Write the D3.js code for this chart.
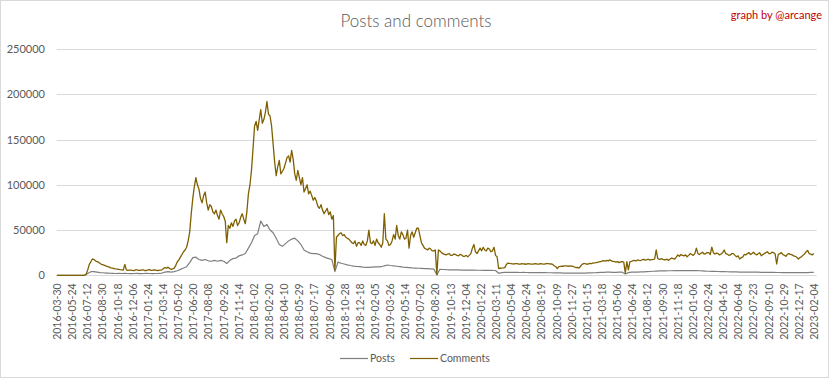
<!DOCTYPE html>
<html><head><meta charset="utf-8">
<script src="https://cdn.jsdelivr.net/npm/d3@7"></script>
<style>
html,body{margin:0;padding:0;background:#fff;}
svg{display:block;font-family:Lato,"Open Sans",sans-serif;}
</style></head>
<body>
<svg id="chart" width="831" height="379"></svg>
<script>
const title = "Posts and comments";
const credit = "graph by @arcange";
const seriesNames = ["Posts", "Comments"];
const yTicks = [0, 50000, 100000, 150000, 200000, 250000];
const tickLabels = ["2016-03-30","2016-05-24","2016-07-12","2016-08-30","2016-10-18","2016-12-06",
"2017-01-24","2017-03-14","2017-05-02","2017-06-20","2017-08-08","2017-09-26","2017-11-14",
"2018-01-02","2018-02-20","2018-04-10","2018-05-29","2018-07-17","2018-09-06","2018-10-28","2018-12-18",
"2019-02-05","2019-03-26","2019-05-14","2019-07-02","2019-08-20","2019-10-13","2019-12-04",
"2020-01-22","2020-03-11","2020-05-04","2020-06-24","2020-08-19","2020-10-09","2020-11-27",
"2021-01-15","2021-03-18","2021-05-06","2021-06-24","2021-08-12","2021-09-30","2021-11-18",
"2022-01-06","2022-02-24","2022-04-16","2022-06-04","2022-07-23","2022-09-10","2022-10-29","2022-12-17",
"2023-02-04"];
const categoriesPerTick = 49;
const categoryCount = 2460;
const commentsStep = 5;  // comments read every 5 categories
const postsStep = 10;    // posts read every 10 categories
const comments = [
0,0,0,0,0,0,0,0,0,0,0,0,0,0,0,0,0,0,0,1500,
6000,12000,15000,18000,17500,16000,15000,14500,13000,12000,11500,11000,10000,9500,9000,8200,8000,7500,7000,6800,
6500,6200,6000,5800,12000,6000,5500,5700,5800,5400,5200,5900,6000,5400,5500,6100,5900,5200,5300,6000,
6200,5500,5600,6000,5800,5300,5400,5800,6000,7500,8500,7800,9000,7500,6500,7200,8000,11000,15000,17000,
20000,23000,26000,28000,31000,38000,48000,68000,85000,98000,108000,100000,95000,85000,80000,88000,92000,80000,72000,78000,
76000,70000,68000,72000,66000,62000,72000,68000,65000,60000,36000,55000,52000,58000,54000,60000,62000,55000,58000,64000,
68000,62000,57000,70000,90000,100000,116000,140000,165000,170000,160000,172000,183000,168000,172000,180000,192000,178000,176000,165000,
145000,125000,110000,120000,127000,112000,115000,118000,124000,130000,132000,125000,138000,128000,112000,105000,116000,108000,100000,108000,
92000,96000,100000,90000,93000,88000,83000,86000,82000,76000,74000,78000,72000,68000,71000,74000,67000,70000,62000,66000,
6000,42000,44000,46000,47000,44000,45000,42000,41000,40000,38000,36000,35000,38000,32000,36000,36000,33000,38000,34000,
33000,38000,50000,36000,35000,38000,33000,40000,36000,34000,31000,36000,68000,40000,38000,33000,34000,38000,45000,40000,
55000,44000,40000,48000,45000,40000,41000,50000,30000,44000,48000,42000,47000,52000,52000,44000,36000,33000,30000,29000,
28000,30000,29000,27000,27000,28000,1000,28000,27000,25000,24000,23000,22500,23500,24000,22000,22000,23500,23000,22000,
21500,23000,22500,21000,21000,22000,20500,22000,24000,30000,34000,26000,24000,27000,30000,27000,31000,28000,27000,30000,
29000,26000,27000,31000,22000,20500,7500,7800,8000,8200,8500,12000,13500,13200,13000,12700,12500,12900,12800,12400,
12300,12800,12700,12500,12200,12800,12600,12300,12400,12700,12900,12400,12300,12800,12700,12400,12500,13000,12800,12600,
12500,12000,10500,9500,7500,9500,9800,10200,10000,10500,10300,9900,10500,10200,10000,9200,8400,8800,8000,10000,
12000,12800,13000,12200,12500,13200,13000,13500,13800,14000,14400,14800,15000,15800,16200,15500,16500,16000,17000,16000,
15500,15000,14500,15200,14000,14800,15000,14500,2500,15000,6000,15000,15500,16200,16500,15800,17000,16500,16300,17200,
17500,16800,17200,17800,16800,17200,17500,18000,28000,18500,17500,18200,18000,17200,17000,17800,16500,18000,19000,18500,
18000,20000,22500,21000,23000,22000,21500,22500,20500,22000,24000,23000,22000,24000,30000,24000,23000,24500,25500,23500,
24000,25000,25000,23000,31000,25000,23500,24500,24000,22500,23500,25000,28000,24000,23500,22000,22500,24000,24000,22000,
20500,21500,18000,19500,20000,23000,22500,24000,25000,23000,24000,25500,23500,22500,23800,25000,21500,23000,24000,25000,
26000,24000,24000,25500,25000,23500,12500,23000,24000,25000,23000,22000,21000,23500,24000,23000,22500,21500,21000,20000,
18000,19500,20500,22000,23500,26000,27500,24000,23500,22500,24000];
const posts = [
0,0,0,0,0,0,0,0,0,0,
2000,4000,4000,3500,3000,2800,2500,2300,2200,2000,
2100,2000,2200,2000,1900,2000,2100,1900,2000,2100,
2000,1900,2000,2100,2500,3500,4000,3500,4000,5000,
6500,8000,9500,14000,19500,20000,17500,16500,17500,16000,
15500,16500,15500,16500,15500,13000,16500,18500,19000,21500,
22500,24000,30000,36000,44000,46000,60000,54000,56000,50000,
47000,41000,34000,32000,35000,38000,40000,41000,38000,34000,
28000,26000,24500,24000,24000,23000,21000,19500,18500,17500,
4000,14500,13300,12500,11500,10800,10200,9800,9500,9000,
8800,8800,9000,9200,9400,9500,10500,11400,10800,10500,
10000,9500,9000,8800,8500,8200,8000,7800,7600,7400,
7300,7100,6900,500,6600,6400,6200,6100,6000,5900,
5900,5800,5800,5700,5700,5800,5600,5600,5500,5500,
5600,5400,5300,2200,3000,3300,3200,3300,3200,3300,
3100,3200,3100,3000,3100,3000,3000,2900,2900,2800,
2800,2700,2600,2600,2500,2500,2400,2400,2300,2300,
2400,2500,2600,2700,2800,3000,3200,3300,3400,3400,
3300,3300,3400,3400,1500,3000,3500,3500,3600,3700,
3800,4000,4200,4500,4700,4800,4800,4900,5000,5000,
5100,5200,5200,5100,5200,5300,5100,5200,5000,4800,
4600,4500,4400,4300,4200,4100,4000,3900,3800,3700,
3700,3600,3600,3500,3500,3400,3400,3400,3300,3300,
3300,3200,3200,3100,3100,3000,3000,3000,3000,2900,
3000,3000,3100,3000,3200,3300];
const colors = {Posts: "#7f7f7f", Comments: "#7f6000"};

const svg = d3.select("#chart");
const plot = {left: 56.7, right: 816.7, top: 49, bottom: 275.3};

svg.append("rect").attr("x",0.5).attr("y",0.5).attr("width",828).attr("height",377)
  .attr("fill","#fff").attr("stroke","#d9d9d9");

const x = d3.scaleLinear().domain([0, categoryCount]).range([plot.left, plot.right]);
const y = d3.scaleLinear().domain([0, 250000]).range([plot.bottom, plot.top]);

// gridlines
svg.append("g").selectAll("line").data(yTicks).join("line")
  .attr("x1", plot.left).attr("x2", plot.right)
  .attr("y1", d => Math.round(y(d)) + 0.5).attr("y2", d => Math.round(y(d)) + 0.5)
  .attr("stroke", "#d9d9d9").attr("stroke-width", 1);

// y axis labels
const yAxis = d3.axisLeft(y).tickValues(yTicks).tickSize(0).tickPadding(0).tickFormat(d3.format("d"));
const yg = svg.append("g").attr("transform", `translate(45,0)`).call(yAxis);
yg.select(".domain").remove();
yg.selectAll("text").attr("fill","#595959").attr("font-size","11px").attr("font-family","Lato,sans-serif");

// x axis labels
const xTickCats = tickLabels.map((_, i) => i * categoriesPerTick + 0.5);
const xAxis = d3.axisBottom(x).tickValues(xTickCats).tickSize(0).tickPadding(0)
  .tickFormat((d, i) => tickLabels[i]);
const xg = svg.append("g").attr("transform", `translate(0,${plot.bottom})`).call(xAxis);
xg.select(".domain").remove();
xg.selectAll("text")
  .attr("fill","#595959").attr("font-size","10.5px").attr("font-family","Lato,sans-serif")
  .attr("text-anchor","end").attr("dy","0.35em")
  .attr("transform","translate(0,8) rotate(-90)").attr("x",0).attr("y",0);

// lines
const postsLine = d3.line().x((d, i) => x(i * postsStep + 0.5)).y(d => y(d));
const commentsLine = d3.line().x((d, i) => x(i * commentsStep + 0.5)).y(d => y(d));
svg.append("path").datum(posts).attr("d", postsLine).attr("fill","none")
  .attr("stroke", colors.Posts).attr("stroke-width", 1.2).attr("stroke-linejoin","round");
svg.append("path").datum(comments).attr("d", commentsLine).attr("fill","none")
  .attr("stroke", colors.Comments).attr("stroke-width", 1.3).attr("stroke-linejoin","round");

// title
svg.append("text").attr("x", 416).attr("y", 27).attr("text-anchor","middle")
  .attr("fill","#595959").attr("font-size","17px").attr("font-family","Lato,sans-serif")
  .attr("font-weight", 300).text(title);
svg.append("text").attr("x", 822).attr("y", 19).attr("text-anchor","end")
  .attr("fill","#c00000").attr("font-size","11px").attr("font-family","Lato,sans-serif").text(credit);

// legend
const legendX = [340, 410];
const lg = svg.append("g");
seriesNames.forEach((name, i) => {
  lg.append("line").attr("x1", legendX[i]).attr("x2", legendX[i] + 28)
    .attr("y1", 358.5).attr("y2", 358.5).attr("stroke", colors[name]).attr("stroke-width", 1.2);
  lg.append("text").attr("x", legendX[i] + 30).attr("y", 358.5).attr("dy","0.35em")
    .attr("fill","#595959").attr("font-size","10.5px").attr("font-family","Lato,sans-serif").text(name);
});
</script>
</body></html>
